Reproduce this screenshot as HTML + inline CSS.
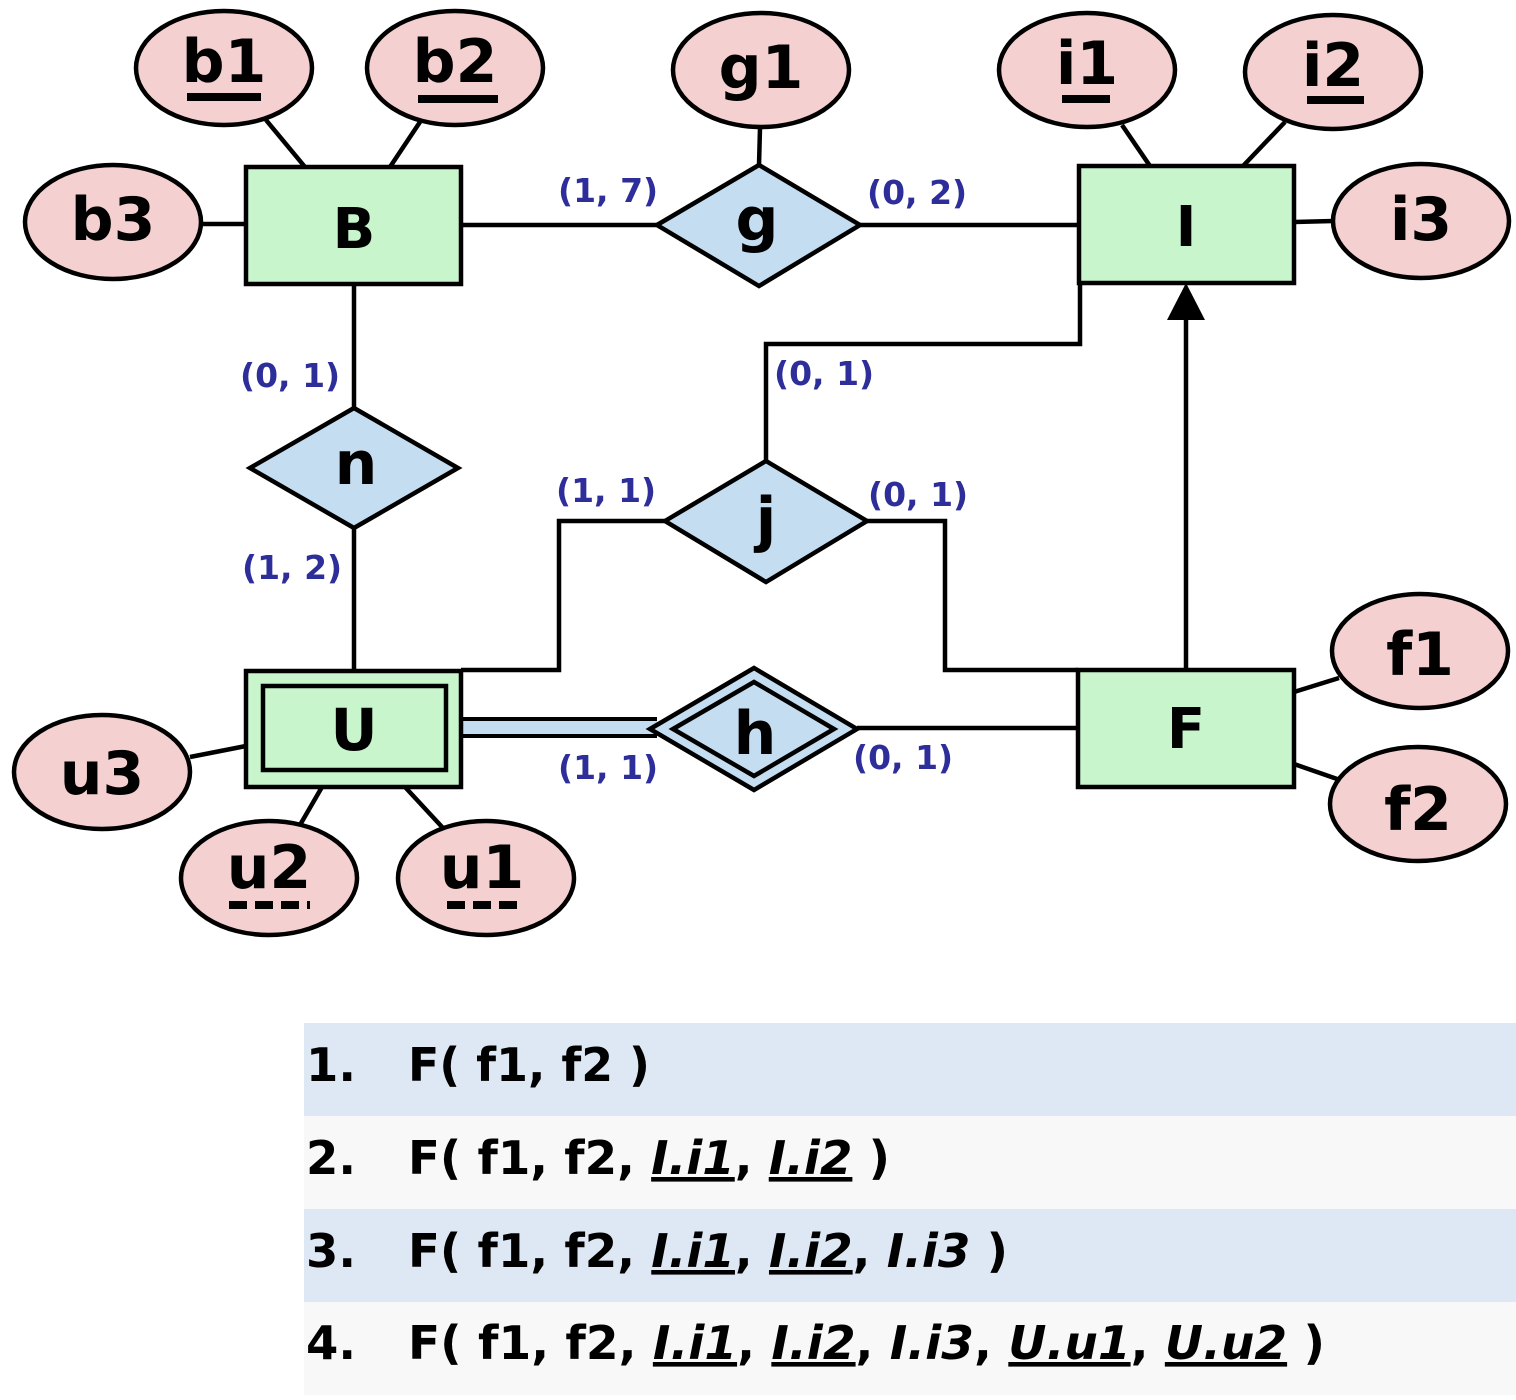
<!DOCTYPE html>
<html><head><meta charset="utf-8"><style>
html,body{margin:0;padding:0;background:#fff;}
svg{display:block;}
.t{font-family:"DejaVu Sans","Liberation Sans",sans-serif;font-weight:bold;}
.lbl{font-family:"DejaVu Sans","Liberation Sans",sans-serif;font-weight:bold;font-size:33px;fill:#2e2e9a;}
</style></head><body>
<svg width="1516" height="1400" viewBox="0 0 1516 1400">
<g stroke="#000" stroke-width="4.5" fill="none">
<line x1="266" y1="120" x2="305" y2="167"/>
<line x1="420" y1="122" x2="390" y2="167"/>
<line x1="200" y1="224" x2="246" y2="224"/>
<line x1="461" y1="225" x2="657" y2="225"/>
<line x1="860" y1="225" x2="1079" y2="225"/>
<line x1="760" y1="128" x2="759" y2="165"/>
<line x1="1122" y1="125" x2="1150" y2="166"/>
<line x1="1285" y1="122" x2="1243" y2="166"/>
<line x1="1294" y1="222" x2="1333" y2="221"/>
<line x1="354" y1="284" x2="354" y2="408"/>
<line x1="354" y1="528" x2="354" y2="671"/>
<polyline points="766,461 766,344 1080,344 1080,283"/>
<polyline points="665,521 559,521 559,670 461,670"/>
<polyline points="867,521 945,521 945,670 1078,670"/>
<line x1="1186" y1="670" x2="1186" y2="318"/>
<line x1="857" y1="728" x2="1078" y2="728"/>
<line x1="190" y1="757" x2="246" y2="746"/>
<line x1="300" y1="825" x2="322" y2="787"/>
<line x1="443" y1="828" x2="405" y2="787"/>
<line x1="1294" y1="692" x2="1339" y2="678"/>
<line x1="1294" y1="764" x2="1340" y2="780"/>
</g>
<polygon points="1186,283 1167,320 1205,320" fill="#000"/>
<g>
<rect x="461" y="719" width="196" height="16" fill="#c5ddf0"/>
<line x1="461" y1="719" x2="657" y2="719" stroke="#000" stroke-width="4"/>
<line x1="461" y1="736" x2="657" y2="736" stroke="#000" stroke-width="4"/>
</g>
<g stroke="#000" stroke-width="4.5" fill="#c8f5cb">
<rect x="246" y="167" width="215" height="117"/>
<rect x="1079" y="166" width="215" height="117"/>
<rect x="1078" y="670" width="216" height="117"/>
<rect x="246" y="671" width="215" height="116"/>
<rect x="263" y="686" width="183" height="84"/>
</g>
<g stroke="#000" stroke-width="4.5" fill="#c5ddf0">
<polygon points="657,225 759,165 860,225 759,286"/>
<polygon points="250,468 354,408 458,468 354,528"/>
<polygon points="665,521 766,461 867,521 766,582"/>
<polygon points="650,729 754,668 857,729 754,790"/>
<polygon points="673,729 754,682 834,729 754,776"/>
</g>
<g stroke="#000" stroke-width="4.5" fill="#f5d0d0">
<ellipse cx="224" cy="68" rx="88" ry="57"/>
<ellipse cx="455" cy="68" rx="88" ry="57"/>
<ellipse cx="113" cy="222" rx="88" ry="57"/>
<ellipse cx="761" cy="70" rx="88" ry="57"/>
<ellipse cx="1087" cy="70" rx="88" ry="57"/>
<ellipse cx="1333" cy="72" rx="88" ry="57"/>
<ellipse cx="1421" cy="221" rx="88" ry="57"/>
<ellipse cx="1420" cy="651" rx="88" ry="57"/>
<ellipse cx="1418" cy="804" rx="88" ry="57"/>
<ellipse cx="102" cy="772" rx="88" ry="57"/>
<ellipse cx="269" cy="878" rx="88" ry="57"/>
<ellipse cx="486" cy="878" rx="88" ry="57"/>
</g>
<g class="t" font-size="60" text-anchor="middle" fill="#000">
<text x="224" y="82">b1</text>
<text x="455" y="82">b2</text>
<text x="113" y="240">b3</text>
<text x="761" y="88">g1</text>
<text x="1087" y="84">i1</text>
<text x="1333" y="86">i2</text>
<text x="1421" y="240">i3</text>
<text x="1420" y="675">f1</text>
<text x="1418" y="830">f2</text>
<text x="102" y="794">u3</text>
<text x="269" y="888">u2</text>
<text x="482" y="888">u1</text>
<text x="354" y="248" font-size="56">B</text>
<text x="1186" y="246" font-size="56">I</text>
<text x="1186" y="748" font-size="56">F</text>
<text x="354" y="750" font-size="58">U</text>
<text x="757" y="240" font-size="60">g</text>
<text x="356" y="484" font-size="60">n</text>
<text x="766" y="540" font-size="60">j</text>
<text x="755" y="754" font-size="60">h</text>
</g>
<g fill="#000">
<rect x="187" y="93" width="74" height="8"/>
<rect x="418" y="95" width="80" height="8"/>
<rect x="1062" y="95" width="48" height="8"/>
<rect x="1307" y="96" width="57" height="8"/>
</g>
<g stroke="#000" stroke-width="8" stroke-dasharray="18,8">
<line x1="229" y1="905" x2="310" y2="905"/>
<line x1="447" y1="905" x2="518" y2="905"/>
</g>
<g class="lbl">
<text x="558" y="202">(1, 7)</text>
<text x="867" y="204">(0, 2)</text>
<text x="240" y="387">(0, 1)</text>
<text x="242" y="579">(1, 2)</text>
<text x="774" y="385">(0, 1)</text>
<text x="556" y="502">(1, 1)</text>
<text x="868" y="506">(0, 1)</text>
<text x="558" y="779">(1, 1)</text>
<text x="853" y="769">(0, 1)</text>
</g>
<g>
<rect x="304" y="1023" width="1212" height="93" fill="#dde8f4"/>
<rect x="304" y="1116" width="1212" height="93" fill="#f8f8f8"/>
<rect x="304" y="1209" width="1212" height="93" fill="#dde8f4"/>
<rect x="304" y="1302" width="1212" height="93" fill="#f8f8f8"/>
<g class="t" font-size="46" fill="#000">
<text x="306" y="1081" textLength="50" lengthAdjust="spacingAndGlyphs">1.</text>
<text x="408" y="1081" textLength="242" lengthAdjust="spacingAndGlyphs">F( f1, f2 )</text>
<text x="306" y="1174" textLength="50" lengthAdjust="spacingAndGlyphs">2.</text>
<text x="408" y="1174" textLength="482" lengthAdjust="spacingAndGlyphs">F( f1, f2, <tspan font-style="italic" text-decoration="underline">I.i1</tspan>, <tspan font-style="italic" text-decoration="underline">I.i2</tspan> )</text>
<text x="306" y="1267" textLength="50" lengthAdjust="spacingAndGlyphs">3.</text>
<text x="408" y="1267" textLength="600" lengthAdjust="spacingAndGlyphs">F( f1, f2, <tspan font-style="italic" text-decoration="underline">I.i1</tspan>, <tspan font-style="italic" text-decoration="underline">I.i2</tspan>, <tspan font-style="italic">I.i3</tspan> )</text>
<text x="306" y="1359" textLength="50" lengthAdjust="spacingAndGlyphs">4.</text>
<text x="408" y="1359" textLength="917" lengthAdjust="spacingAndGlyphs">F( f1, f2, <tspan font-style="italic" text-decoration="underline">I.i1</tspan>, <tspan font-style="italic" text-decoration="underline">I.i2</tspan>, <tspan font-style="italic">I.i3</tspan>, <tspan font-style="italic" text-decoration="underline">U.u1</tspan>, <tspan font-style="italic" text-decoration="underline">U.u2</tspan> )</text>
</g>
</g>
</svg>
</body></html>
